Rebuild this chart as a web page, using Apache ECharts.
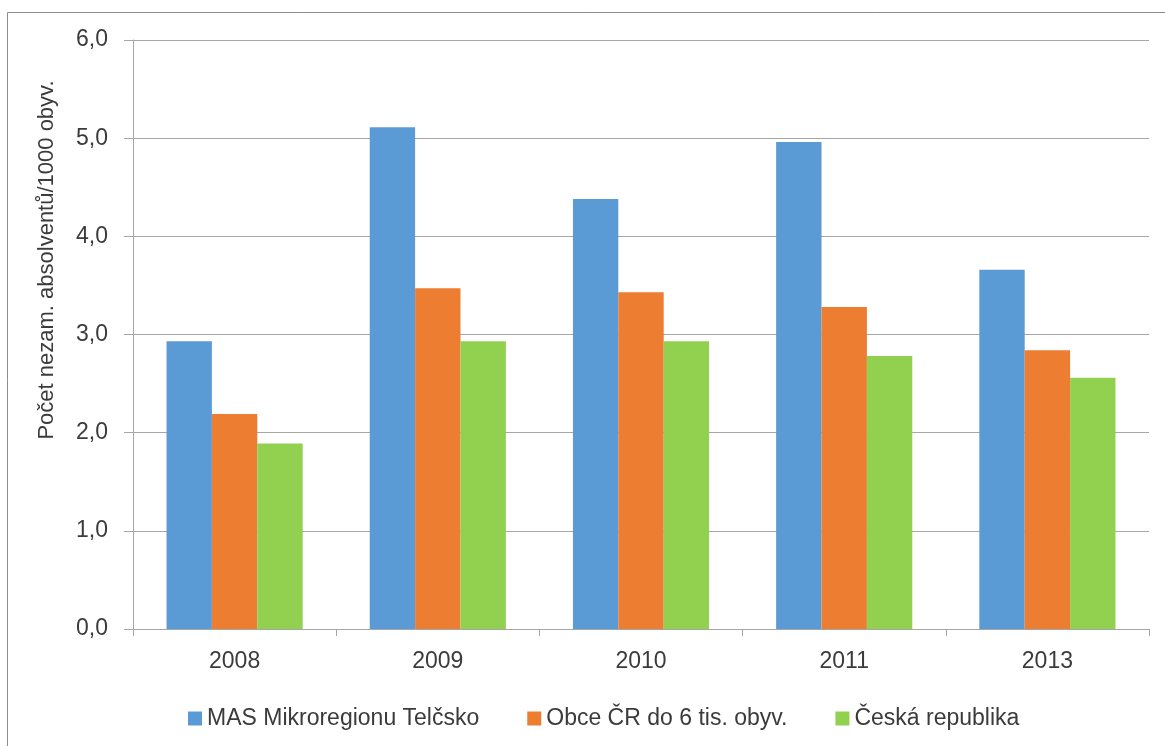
<!DOCTYPE html>
<html>
<head>
<meta charset="utf-8">
<title>Počet nezam. absolventů</title>
<script src="https://cdn.jsdelivr.net/npm/echarts@6/dist/echarts.min.js"></script>
<style>
  html, body { margin: 0; padding: 0; background: #fff; }
  #main { width: 1165px; height: 746px; }
</style>
</head>
<body>
<div id="main"></div>
<script>
// data
var roky = ['2008', '2009', '2010', '2011', '2013'];
var nazvy = ['MAS Mikroregionu Telčsko', 'Obce ČR do 6 tis. obyv.', 'Česká republika'];
var masTelcsko = [2.93, 5.11, 4.38, 4.96, 3.66];
var obceDo6tis = [2.19, 3.47, 3.43, 3.28, 2.84];
var ceskaRep = [1.89, 2.93, 2.93, 2.78, 2.56];
var barvy = ['#5B9BD5', '#ED7D31', '#92D050'];

var pismo = 'Liberation Sans';
var barvaTextu = '#3b3b3b';

var myChart = echarts.init(document.getElementById('main'));

var option = {
	animation: false,
	color: barvy,
	textStyle: { fontFamily: pismo },
	// rámeček grafu a popisek osy y
	graphic: [
		{
			type: 'rect',
			shape: { x: 7.5, y: 12.5, width: 1300, height: 900 },
			style: { fill: 'none', stroke: '#8c8c8c', lineWidth: 1 },
			silent: true
		},
		{
			type: 'text',
			x: 47,
			y: 260,
			rotation: Math.PI / 2,
			style: {
				text: 'Počet nezam. absolventů/1000 obyv.',
				fontFamily: pismo,
				fontSize: 22,
				fill: barvaTextu,
				align: 'center',
				verticalAlign: 'middle'
			}
		}
	],
	legend: {
		left: 183,
		top: 702,
		itemWidth: 14,
		itemHeight: 14,
		itemGap: 48,
		icon: 'rect',
		textStyle: { fontFamily: pismo, fontSize: 23, color: barvaTextu },
		data: nazvy
	},
	grid: {
		left: 133,
		right: 16,
		top: 40,
		bottom: 117,
		containLabel: false
	},
	xAxis: {
		type: 'category',
		data: roky,
		axisLine: { lineStyle: { color: '#a6a6a6', width: 1 } },
		axisTick: { show: true, length: 7, lineStyle: { color: '#a6a6a6' } },
		axisLabel: { margin: 21, fontSize: 23, color: barvaTextu, fontFamily: pismo }
	},
	yAxis: {
		type: 'value',
		min: 0,
		max: 6,
		interval: 1,
		axisLine: { show: true, lineStyle: { color: '#a6a6a6', width: 1 } },
		axisTick: { show: true, length: 9, lineStyle: { color: '#a6a6a6' } },
		splitLine: { show: true, lineStyle: { color: '#a6a6a6', width: 1 } },
		axisLabel: {
			margin: 25,
			fontSize: 23,
			color: barvaTextu,
			fontFamily: pismo,
			formatter: function (v) { return v.toFixed(1).replace('.', ','); }
		}
	},
	series: [
		{ name: nazvy[0], type: 'bar', data: masTelcsko, barGap: '0%', barCategoryGap: '33%' },
		{ name: nazvy[1], type: 'bar', data: obceDo6tis, barGap: '0%', barCategoryGap: '33%' },
		{ name: nazvy[2], type: 'bar', data: ceskaRep, barGap: '0%', barCategoryGap: '33%' }
	]
};

myChart.setOption(option);

window.onresize = myChart.resize;
</script>
</body>
</html>
